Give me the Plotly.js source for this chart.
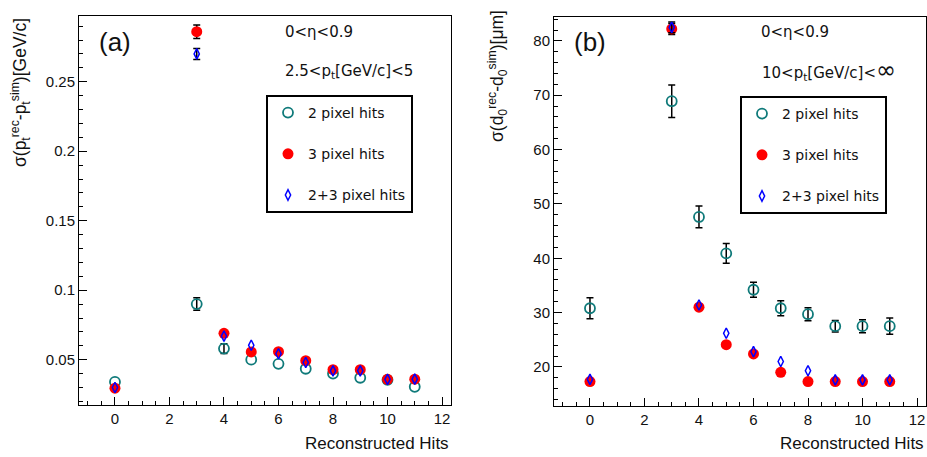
<!DOCTYPE html>
<html>
<head>
<meta charset="utf-8">
<script src="https://cdn.plot.ly/plotly-3.0.1.min.js"></script>
<style>html,body{margin:0;padding:0;background:#fff;}#chart{width:927px;height:457px;}</style>
</head>
<body>
<div id="chart"></div>
<script>
// ---- data ----  (NaN = no visible error bar)
const hitsA = [0, 3, 4, 5, 6, 7, 8, 9, 10, 11];
const ptRes2 = [0.034, 0.090, 0.058, 0.050, 0.047, 0.0435, 0.040, 0.037, 0.0355, 0.0305];
const ptErr2 = [NaN, 0.0045, 0.0035, NaN, NaN, NaN, NaN, NaN, NaN, NaN];
const ptRes3 = [0.0295, 0.286, 0.069, 0.0556, 0.0558, 0.0493, 0.0428, 0.0428, 0.0359, 0.036];
const ptErr3 = [NaN, 0.0048, NaN, NaN, NaN, NaN, NaN, NaN, NaN, NaN];
const ptRes23 = [0.030, 0.270, 0.067, 0.0604, 0.0543, 0.048, 0.042, 0.042, 0.0359, 0.036];
const ptErr23 = [NaN, 0.004, NaN, NaN, NaN, NaN, NaN, NaN, NaN, NaN];

const hitsB = [0, 3, 4, 5, 6, 7, 8, 9, 10, 11];
const d0Res2 = [30.8, 68.9, 47.6, 40.9, 34.2, 30.8, 29.7, 27.5, 27.5, 27.5];
const d0Err2 = [1.95, 3.0, 2.0, 1.8, 1.4, 1.4, 1.2, 1.05, 1.2, 1.5];
const d0Res3 = [17.3, 82.2, 31.0, 24.1, 22.4, 19.0, 17.3, 17.3, 17.3, 17.3];
const d0Err3 = [NaN, 1.0, NaN, NaN, NaN, NaN, NaN, NaN, NaN, NaN];
const d0Res23 = [17.7, 82.5, 31.4, 26.2, 22.8, 21.0, 19.3, 17.6, 17.6, 17.6];
const d0Err23 = [NaN, 1.0, NaN, NaN, NaN, NaN, NaN, NaN, NaN, NaN];

const seriesNames = ['2 pixel hits', '3 pixel hits', '2+3 pixel hits'];

// ---- helpers ----
const W = 927, H = 457;
const px = x => x / W;
const py = y => 1 - y / H;
const TEAL = '#0f7a7a', RED = '#ff0000', BLUE = '#0000ff';
const sans = 'Liberation Sans, Arial, sans-serif';
const wide = 'DejaVu Sans, sans-serif';

function errObj(arr, w) {
  return {type: 'data', array: arr, visible: true, color: '#000', thickness: 1.5, width: w};
}
function mk(x, y, err, idx, xa, ya, leg) {
  const styles = [
    {symbol: 'circle-open', size: 10, color: TEAL, line: {color: TEAL, width: 1.8}},
    {symbol: 'circle', size: 11, color: RED, line: {color: RED, width: 0}},
    {symbol: 'diamond-tall-open', size: 7.5, color: BLUE, line: {color: BLUE, width: 1.5}}
  ];
  return {
    type: 'scatter', mode: 'markers', x: x, y: y,
    error_y: errObj(err, 3.5),
    marker: styles[idx], name: seriesNames[idx],
    xaxis: xa, yaxis: ya, legend: leg, legendgroup: leg + idx,
    cliponaxis: false
  };
}

const traces = [
  mk(hitsA, ptRes2, ptErr2, 0, 'x', 'y', 'legend'),
  mk(hitsA, ptRes3, ptErr3, 1, 'x', 'y', 'legend'),
  mk(hitsA, ptRes23, ptErr23, 2, 'x', 'y', 'legend'),
  mk(hitsB, d0Res2, d0Err2, 0, 'x2', 'y2', 'legend2'),
  mk(hitsB, d0Res3, d0Err3, 1, 'x2', 'y2', 'legend2'),
  mk(hitsB, d0Res23, d0Err23, 2, 'x2', 'y2', 'legend2')
];

function xAxis(domain, anchor) {
  return {
    domain: domain, anchor: anchor, range: [-1.32, 12.33],
    tick0: 0, dtick: 2, ticks: 'inside', ticklen: 8, tickwidth: 1, tickcolor: '#000',
    minor: {dtick: 0.5, ticks: 'inside', ticklen: 4, tickwidth: 1, tickcolor: '#000'},
    showline: true, linecolor: '#000', linewidth: 1, mirror: true,
    showgrid: false, zeroline: false,
    tickfont: {family: sans, size: 15, color: '#111'}
  };
}
function yAxis(domain, anchor, range, dtick, mdt) {
  return {
    domain: domain, anchor: anchor, range: range,
    tick0: 0, dtick: dtick, ticks: 'inside', ticklen: 8, tickwidth: 1, tickcolor: '#000',
    minor: {dtick: mdt, ticks: 'inside', ticklen: 4, tickwidth: 1, tickcolor: '#000'},
    showline: true, linecolor: '#000', linewidth: 1, mirror: true,
    showgrid: false, zeroline: false,
    tickfont: {family: sans, size: 15, color: '#111'}
  };
}

function legendCfg(x, y) {
  return {
    x: px(x), y: py(y), xanchor: 'left', yanchor: 'top',
    bgcolor: '#fff', bordercolor: '#000', borderwidth: 2,
    font: {family: wide, size: 14, color: '#111'},
    traceorder: 'grouped', tracegroupgap: 20, itemwidth: 30
  };
}

function ann(text, x, y, opts) {
  return Object.assign({
    text: text, x: px(x), y: py(y), xref: 'paper', yref: 'paper',
    showarrow: false, xanchor: 'left', yanchor: 'middle',
    font: {family: wide, size: 15, color: '#111'}
  }, opts || {});
}

const layout = {
  width: W, height: H,
  margin: {l: 0, r: 0, t: 0, b: 0},
  paper_bgcolor: '#fff', plot_bgcolor: '#fff',
  showlegend: true,
  xaxis: xAxis([px(79), px(451)], 'y'),
  yaxis: yAxis([py(405), py(16)], 'x', [0.0174, 0.2973], 0.05, 0.01),
  xaxis2: xAxis([px(554), px(926)], 'y2'),
  yaxis2: yAxis([py(405.5), py(17)], 'x2', [12.9, 84.4], 10, 2),
  legend: legendCfg(266, 95),
  legend2: legendCfg(740, 96),
  annotations: [
    ann('(a)', 97, 42, {font: {family: sans, size: 26, color: '#111'}}),
    ann('(b)', 572, 42, {font: {family: sans, size: 26, color: '#111'}}),
    ann('0&lt;η&lt;0.9', 283, 32),
    ann('2.5&lt;p<sub>t</sub>[GeV/c]&lt;5', 283, 71),
    ann('0&lt;η&lt;0.9', 759, 32),
    ann('10&lt;p<sub>t</sub>[GeV/c]&lt;<span style="font-size:24px">∞</span>', 760, 70),
    ann('Reconstructed Hits', 451, 443, {xanchor: 'right', font: {family: sans, size: 17, color: '#111'}}),
    ann('Reconstructed Hits', 926, 443, {xanchor: 'right', font: {family: sans, size: 17, color: '#111'}}),
    ann('σ(p<sub>t</sub><sup>rec</sup>-p<sub>t</sub><sup>sim</sup>)[GeV/c]', 20, 93,
        {xanchor: 'center', textangle: -90, font: {family: sans, size: 17.5, color: '#111'}}),
    ann('σ(d<sub>0</sub><sup>rec</sup>-d<sub>0</sub><sup>sim</sup>)[μm]', 498, 76,
        {xanchor: 'center', textangle: -90, font: {family: sans, size: 17.5, color: '#111'}})
  ]
};

Plotly.newPlot('chart', traces, layout, {displayModeBar: false, staticPlot: true});
</script>
</body>
</html>
